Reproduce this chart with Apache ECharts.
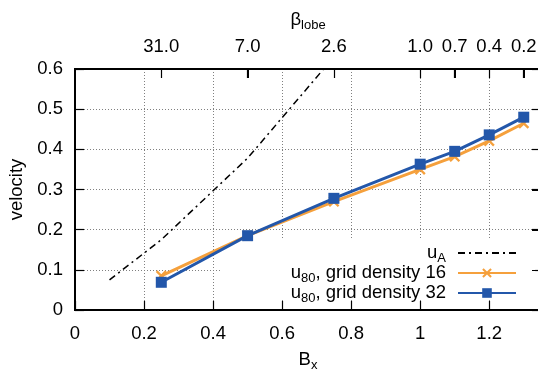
<!DOCTYPE html>
<html>
<head>
<meta charset="utf-8">
<script src="https://cdn.jsdelivr.net/npm/echarts@6/dist/echarts.min.js"></script>
<style>
html,body{margin:0;padding:0;background:#fff;overflow:hidden}
#wrap{position:relative;width:538px;height:374px;overflow:hidden}
#c{width:538px;height:374px}
.fr{position:absolute;background:#000;pointer-events:none}
</style>
</head>
<body>
<div id="wrap"><div id="c"></div></div>
<script>
// ---- data ----
const bx = [0.25, 0.5, 0.75, 1.0, 1.1, 1.2, 1.3];
const u80_16 = [0.085, 0.185, 0.27, 0.35, 0.382, 0.421, 0.465];
const u80_32 = [0.069, 0.185, 0.278, 0.363, 0.395, 0.436, 0.48];
const uA_bx = [0.1, 0.25, 0.5, 0.75];
const uA = [0.075, 0.175, 0.378, 0.63];
const betaTickPos = [0.25, 0.5, 0.75, 1.0, 1.1, 1.2, 1.3];
const betaTickLabels = ['31.0', '7.0', '2.6', '1.0', '0.7', '0.4', '0.2'];
const yTicks = [0, 0.1, 0.2, 0.3, 0.4, 0.5, 0.6];
const seriesNames = ['uA', 'u80_16', 'u80_32'];
const legendTexts = {
  uA: '{m|u}{s|A}{g| }',
  u80_16: '{m|u}{s|80}{m|, grid density 16}{g| }',
  u80_32: '{m|u}{s|80}{m|, grid density 32}{g| }'
};

const FONT = "'Liberation Sans', Arial, sans-serif";
const FS = 18.5;
const SUB = 13;
const BLUE = '#2357aa';
const ORANGE = '#f5a03c';
function rich() {
  return {
    m: { fontSize: FS, fontFamily: FONT, color: '#000', lineHeight: 20 },
    s: { fontSize: SUB, fontFamily: FONT, color: '#000', lineHeight: 9, padding: [11, 0, 0, 0] },
    g: { width: 7, fontSize: FS, lineHeight: 20 }
  };
}
const XMIN = 0, XMAX = 1.35, YMIN = 0, YMAX = 0.6;
const L = 75, T = 69, W = 466, H = 241;
const TICK = 9;
const cross = 'path://M0,1.5L1.5,0L5,3.5L8.5,0L10,1.5L6.5,5L10,8.5L8.5,10L5,6.5L1.5,10L0,8.5L3.5,5Z';

function aLine() { return { show: true, onZero: false, lineStyle: { color: '#000', width: 2 } }; }
function aTick(extra) { return Object.assign({ show: true, inside: true, length: TICK, lineStyle: { color: '#000', width: 1.2 } }, extra || {}); }
function gLine() { return { show: true, showMinLine: false, showMaxLine: false, lineStyle: { color: '#808080', width: 1, type: [1, 2] } }; }

const chart = echarts.init(document.getElementById('c'));

chart.setOption({
  animation: false,
  grid: { left: L, top: T, width: W, height: H, containLabel: false, outerBoundsMode: 'none',
          show: true, backgroundColor: 'rgba(0,0,0,0)', borderColor: '#000', borderWidth: 2 },
  xAxis: [
    { type: 'value', position: 'bottom', min: XMIN, max: XMAX, interval: 0.2,
      axisLine: aLine(), axisTick: aTick(),
      axisLabel: { show: true, margin: 14, fontSize: FS, fontFamily: FONT, color: '#000', showMaxLabel: false },
      splitLine: gLine(),
      name: '{m|B}{s|x}', nameLocation: 'middle', nameGap: 38,
      nameTextStyle: { rich: rich() } },
    { type: 'value', position: 'top', min: XMIN, max: XMAX,
      axisLine: aLine(), axisTick: aTick({ customValues: betaTickPos }),
      axisLabel: { show: true, margin: 13, fontSize: FS, fontFamily: FONT, color: '#000',
        customValues: betaTickPos,
        formatter: function (v) {
          for (let i = 0; i < betaTickPos.length; i++) if (Math.abs(betaTickPos[i] - v) < 1e-6) return betaTickLabels[i];
          return '';
        } },
      splitLine: { show: false },
      name: '{m|β}{s|lobe}', nameLocation: 'middle', nameGap: 36,
      nameTextStyle: { rich: rich() } }
  ],
  yAxis: [
    { type: 'value', position: 'left', min: YMIN, max: YMAX, interval: 0.1,
      axisLine: aLine(), axisTick: aTick(),
      axisLabel: { show: true, margin: 12, fontSize: FS, fontFamily: FONT, color: '#000' },
      splitLine: gLine(),
      name: 'velocity', nameLocation: 'middle', nameGap: 42, nameRotate: 90,
      nameTextStyle: { fontSize: FS, fontFamily: FONT, color: '#000' } },
    { type: 'value', position: 'right', min: YMIN, max: YMAX, interval: 0.1,
      axisLine: aLine(), axisTick: aTick(),
      axisLabel: { show: false }, splitLine: { show: false } }
  ],
  legend: {
    orient: 'vertical', align: 'right', right: 21, top: 241, padding: 0,
    itemWidth: 58, itemHeight: 12, itemGap: -4,
    data: [
      { name: seriesNames[0], itemStyle: { opacity: 0 } },
      { name: seriesNames[1] },
      { name: seriesNames[2] }
    ],
    formatter: function (n) { return legendTexts[n]; },
    textStyle: { fontSize: FS, fontFamily: FONT, color: '#000', rich: rich() }
  },
  series: [
    { name: 'uA', type: 'line', z: 2,
      data: uA_bx.map((x, i) => [x, uA[i]]), symbol: 'none', clip: true,
      lineStyle: { color: '#000', width: 1.5, type: [7, 4, 2, 4] }, itemStyle: { color: '#000' } },
    { name: 'u80_16', type: 'line', z: 2,
      data: bx.map((x, i) => [x, u80_16[i]]), symbol: cross, symbolSize: 11,
      lineStyle: { color: ORANGE, width: 3 }, itemStyle: { color: ORANGE } },
    { name: 'u80_32', type: 'line', z: 2,
      data: bx.map((x, i) => [x, u80_32[i]]), symbol: 'rect', symbolSize: 11,
      lineStyle: { color: BLUE, width: 3 }, itemStyle: { color: BLUE } }
  ]
});

// positions through the axes' own scales
const px = v => chart.convertToPixel({ xAxisIndex: 0 }, v);
const py = v => chart.convertToPixel({ yAxisIndex: 0 }, v);
const xL = px(XMIN), xR = px(XMAX), yT = py(YMAX), yB = py(YMIN);

// white key box behind the legend (covers grid lines only)
chart.setOption({ graphic: [
  { type: 'rect', z: 1, silent: true,
    shape: { x: px(0.42), y: py(0.175), width: px(1.31) - px(0.42) + 8, height: yB - py(0.175) - TICK - 1 },
    style: { fill: '#fff' } }
] });

// frame top edge, β ticks on top and mirror ticks on the right, as overlay strokes
const wrap = document.getElementById('wrap');
function bar(x, y, w, h) {
  const d = document.createElement('div');
  d.className = 'fr';
  d.style.left = x + 'px'; d.style.top = y + 'px'; d.style.width = w + 'px'; d.style.height = h + 'px';
  wrap.appendChild(d);
}
bar(Math.round(xL) - 1, Math.round(yT) - 1, Math.round(xR - xL) + 2, 2);
bar(Math.round(xR) - 1, Math.round(yT) - 1, 2, Math.round(yB - yT) + 2);
betaTickPos.forEach(function (p) { bar(Math.round(px(p)) - 0.5, Math.round(yT), 1.2, TICK); });
yTicks.forEach(function (t) { bar(Math.round(xR) - TICK, Math.round(py(t)) - 0.5, TICK, 1.2); });
</script>
</body>
</html>
